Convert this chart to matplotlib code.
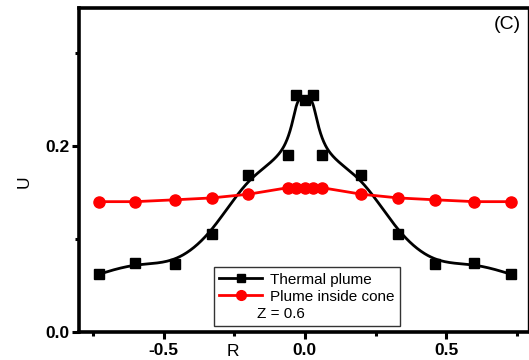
import numpy as np
import matplotlib
matplotlib.use("Agg")
import matplotlib.pyplot as plt
from matplotlib.ticker import MultipleLocator
from matplotlib.transforms import Affine2D

plt.rcParams['font.family'] = ['Liberation Sans', 'DejaVu Sans']

# Radial positions and axial velocity at Z = 0.6
r = [-0.73, -0.60, -0.46, -0.33, -0.20, -0.06, -0.03, 0.0,
     0.03, 0.06, 0.20, 0.33, 0.46, 0.60, 0.73]
u_thermal = [0.062, 0.074, 0.073, 0.105, 0.169, 0.190, 0.255, 0.249,
             0.255, 0.190, 0.169, 0.105, 0.073, 0.074, 0.062]
u_cone = [0.140, 0.140, 0.142, 0.144, 0.148, 0.155, 0.155, 0.155,
          0.155, 0.155, 0.148, 0.144, 0.142, 0.140, 0.140]

x_ticks = [-0.5, 0.0, 0.5]
y_ticks = [0.0, 0.2]


def bspline(x, y, per_seg=60):
    """Uniform cubic B-spline using the data as control points, clamped at the ends."""
    px = np.concatenate([[x[0]] * 2, x, [x[-1]] * 2]).astype(float)
    py = np.concatenate([[y[0]] * 2, y, [y[-1]] * 2]).astype(float)
    t = np.linspace(0, 1, per_seg, endpoint=False)
    b0 = (1 - t) ** 3 / 6
    b1 = (3 * t ** 3 - 6 * t ** 2 + 4) / 6
    b2 = (-3 * t ** 3 + 3 * t ** 2 + 3 * t + 1) / 6
    b3 = t ** 3 / 6
    xs, ys = [], []
    for i in range(len(px) - 3):
        xs.append(b0 * px[i] + b1 * px[i + 1] + b2 * px[i + 2] + b3 * px[i + 3])
        ys.append(b0 * py[i] + b1 * py[i + 1] + b2 * py[i + 2] + b3 * py[i + 3])
    xs.append([x[-1]])
    ys.append([y[-1]])
    return np.concatenate(xs), np.concatenate(ys)


fig = plt.figure(figsize=(5.29, 3.60), dpi=100)
ax = fig.add_axes([79 / 529, 28 / 360, 449 / 529, 324 / 360])

xs, ys = bspline(r, u_thermal)
ax.plot(xs, ys, color='black', lw=2.0, zorder=2)
ax.plot(r, u_thermal, ls='none', marker='s', ms=7, color='black', zorder=3)
ax.plot(r, u_cone, color='red', lw=2.0, marker='o', ms=8, zorder=3)

ax.set_xlim(-0.8, 0.79)
ax.set_ylim(0.0, 0.348)

ax.set_xticks(x_ticks)
ax.set_xticklabels(['-0.5', '0.0', '0.5'])
ax.set_yticks(y_ticks)
ax.set_yticklabels(['0.0', '0.2'])
ax.xaxis.set_minor_locator(MultipleLocator(0.25))
ax.yaxis.set_minor_locator(MultipleLocator(0.1))

for lab in ax.get_xticklabels() + ax.get_yticklabels():
    lab.set_fontweight('bold')
    lab.set_fontsize(12.5)

ax.tick_params(axis='both', which='major', direction='out', length=5, width=2.2, pad=2)
ax.tick_params(axis='both', which='minor', direction='out', length=3, width=2.2)
ax.tick_params(axis='x', which='major', pad=3)

for s in ax.spines.values():
    s.set_linewidth(2.6)
ax.spines['right'].set_linewidth(1.0)

# Axis titles sit beside the ticks rather than centred on the axes
fig.text(233 / 529, 1 - 351 / 360, 'R', ha='center', va='center', fontsize=12.5)
fig.text(24 / 529, 1 - 182 / 360, 'U', rotation=90, ha='center', va='center', fontsize=12.5)

ax.text(0.985, 0.975, '(C)', transform=ax.transAxes, ha='right', va='top', fontsize=14)

h1, = ax.plot([], [], color='black', lw=2.0, marker='s', ms=6)
h2, = ax.plot([], [], color='red', lw=2.0, marker='o', ms=7)
h3, = ax.plot([], [], ls='none')
leg = ax.legend([h1, h2, h3], ['Thermal plume', 'Plume inside cone', 'Z = 0.6'],
                loc='lower left', bbox_to_anchor=(135 / 449, 6 / 324),
                fontsize=11, frameon=True, fancybox=False, edgecolor='black',
                handlelength=2.8, handletextpad=0.5, borderpad=0.35,
                labelspacing=0.2, borderaxespad=0)
leg.get_frame().set_linewidth(1.0)

# The condition note has no symbol, so pull it slightly left into the handle column
note = leg.get_texts()[2]
note.set_transform(note.get_transform() + Affine2D().translate(-13, 0))

fig.savefig('out.png', dpi=100)
